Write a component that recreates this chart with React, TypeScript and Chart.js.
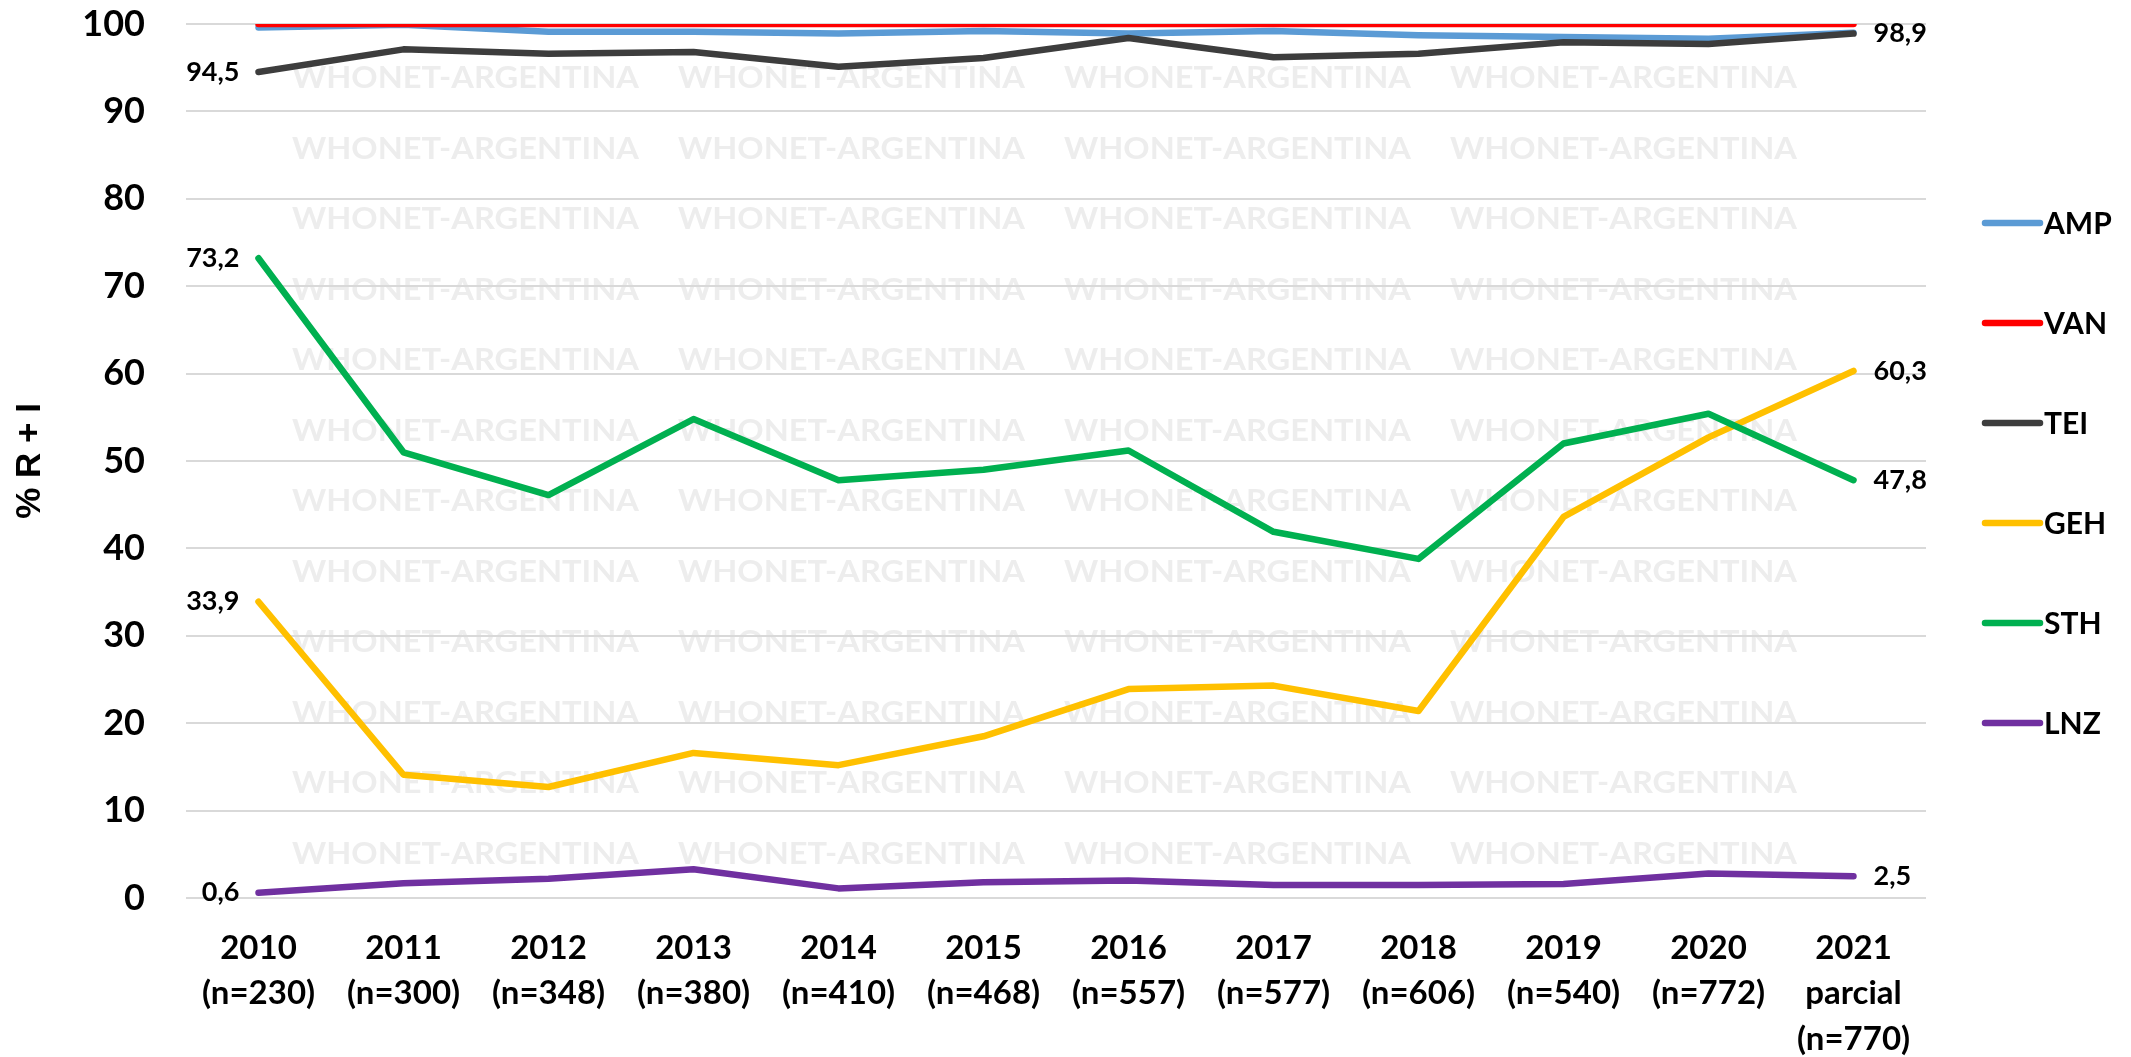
import React, { useEffect, useRef } from 'react';
import { Chart, registerables } from 'chart.js';

Chart.register(...registerables);

// ---------- data ----------
const years = ['2010', '2011', '2012', '2013', '2014', '2015', '2016', '2017', '2018', '2019', '2020', '2021'];
const yearNotes = ['', '', '', '', '', '', '', '', '', '', '', 'parcial'];
const sampleSizes = ['(n=230)', '(n=300)', '(n=348)', '(n=380)', '(n=410)', '(n=468)', '(n=557)', '(n=577)', '(n=606)', '(n=540)', '(n=772)', '(n=770)'];

const seriesNames = ['AMP', 'VAN', 'TEI', 'GEH', 'STH', 'LNZ'];
const AMP = [99.6, 99.9, 99.1, 99.1, 98.9, 99.2, 98.9, 99.2, 98.7, 98.5, 98.3, 99.0];
const VAN = [100, 100, 100, 100, 100, 100, 100, 100, 100, 100, 100, 100];
const TEI = [94.5, 97.1, 96.6, 96.8, 95.1, 96.1, 98.4, 96.2, 96.6, 97.9, 97.7, 98.9];
const GEH = [33.9, 14.1, 12.7, 16.6, 15.2, 18.5, 23.9, 24.3, 21.4, 43.6, 52.7, 60.3];
const STH = [73.2, 51.0, 46.1, 54.8, 47.8, 49.0, 51.2, 41.9, 38.8, 52.0, 55.4, 47.8];
const LNZ = [0.6, 1.7, 2.2, 3.3, 1.1, 1.8, 2.0, 1.5, 1.5, 1.6, 2.8, 2.5];
const seriesValues = [AMP, VAN, TEI, GEH, STH, LNZ];
const seriesColors = ['#5B9BD5', '#FF0000', '#3D3D3D', '#FFC000', '#00B050', '#7030A0'];
const endLabelledSeries = ['TEI', 'GEH', 'STH', 'LNZ'];

const yMin = 0;
const yMax = 100;
const yStep = 10;
const yTitle = '% R + I';
const watermarkText = 'WHONET-ARGENTINA';

// ---------- layout / style ----------
const W = 2131;
const H = 1057;
const FONT = 'Lato, "Open Sans", "DejaVu Sans", sans-serif';
const TITLE_FONT = '"Liberation Sans", Arial, sans-serif';
const LINE_W = 6.5;

const categoryLabels = years.map((y, i) => (yearNotes[i] ? [y, yearNotes[i], sampleSizes[i]] : [y, sampleSizes[i]]));

const fmt = (v: number) => v.toFixed(1).replace('.', ',');

const watermarkPlugin = {
  id: 'watermark',
  beforeDraw(chart: any) {
    const { ctx, chartArea } = chart;
    ctx.save();
    ctx.font = `bold 30px ${FONT}`;
    ctx.fillStyle = '#EDEDED';
    ctx.textBaseline = 'middle';
    ctx.textAlign = 'left';
    const natural = ctx.measureText(watermarkText).width;
    const target = 347;
    for (let r = 0; r < 12; r++) {
      const y = chartArea.top + 54.5 + r * 70.5;
      for (let c = 0; c < 4; c++) {
        const x = chartArea.left + 106 + c * 386;
        ctx.save();
        ctx.translate(x, y);
        ctx.scale(target / natural, 1);
        ctx.fillText(watermarkText, 0, 0);
        ctx.restore();
      }
    }
    ctx.restore();
  },
};

const endLabelPlugin = {
  id: 'endLabels',
  afterDatasetsDraw(chart: any) {
    const { ctx } = chart;
    ctx.save();
    ctx.font = `bold 27px ${FONT}`;
    ctx.fillStyle = '#000';
    ctx.textBaseline = 'middle';
    chart.data.datasets.forEach((ds: any, i: number) => {
      if (!endLabelledSeries.includes(ds.label)) return;
      const meta = chart.getDatasetMeta(i);
      const pts = meta.data;
      const first = pts[0];
      const last = pts[pts.length - 1];
      ctx.textAlign = 'right';
      ctx.fillText(fmt(ds.data[0]), first.x - 19, first.y);
      ctx.textAlign = 'left';
      ctx.fillText(fmt(ds.data[ds.data.length - 1]), last.x + 20, last.y);
    });
    ctx.restore();
  },
};

const legendPlugin = {
  id: 'sideLegend',
  afterDraw(chart: any) {
    const { ctx, chartArea } = chart;
    ctx.save();
    ctx.font = `bold 30px ${FONT}`;
    ctx.textBaseline = 'middle';
    ctx.textAlign = 'left';
    const x0 = chartArea.right + 59;
    const lineLen = 55;
    chart.data.datasets.forEach((ds: any, i: number) => {
      const y = chartArea.top + 199 + i * 100;
      ctx.strokeStyle = ds.borderColor;
      ctx.lineWidth = 6.5;
      ctx.lineCap = 'round';
      ctx.beginPath();
      ctx.moveTo(x0, y);
      ctx.lineTo(x0 + lineLen, y);
      ctx.stroke();
      ctx.fillStyle = '#000';
      ctx.fillText(ds.label, x0 + lineLen + 4, y + 1);
    });
    ctx.restore();
  },
};

export default function App() {
  const ref = useRef<HTMLCanvasElement>(null);

  useEffect(() => {
    document.body.style.margin = '0';
    const canvas = ref.current;
    if (!canvas) return;
    const chart = new Chart(canvas, {
      type: 'line',
      data: {
        labels: categoryLabels,
        datasets: seriesNames.map((name, i) => ({
          label: name,
          data: seriesValues[i],
          borderColor: seriesColors[i],
          backgroundColor: seriesColors[i],
          borderWidth: LINE_W,
          pointRadius: 0,
          pointHoverRadius: 0,
          tension: 0,
          fill: false,
          borderJoinStyle: 'round' as const,
          borderCapStyle: 'round' as const,
          clip: 0,
          order: seriesNames.length - i,
        })),
      },
      options: {
        animation: false,
        responsive: false,
        devicePixelRatio: 1,
        events: [],
        layout: { padding: { left: 0, top: 24, right: 205, bottom: 0 } },
        plugins: {
          legend: { display: false },
          tooltip: { enabled: false },
        },
        scales: {
          x: {
            type: 'category',
            offset: true,
            grid: { display: false, drawTicks: false },
            border: { display: false },
            ticks: {
              color: '#000',
              font: { family: FONT, size: 33, weight: 'bold', lineHeight: 1.39 },
              padding: 27,
              maxRotation: 0,
              minRotation: 0,
              autoSkip: false,
            },
            afterFit(scale: any) {
              scale.height = 159;
              scale.paddingLeft = 0;
              scale.paddingRight = 0;
            },
          },
          y: {
            min: yMin,
            max: yMax,
            grid: { color: '#D9D9D9', lineWidth: 2, drawTicks: false },
            border: { display: false },
            ticks: {
              stepSize: yStep,
              color: '#000',
              font: { family: FONT, size: 36, weight: 'bold' },
              padding: 41,
            },
            title: {
              display: true,
              text: yTitle,
              color: '#000',
              font: { family: TITLE_FONT, size: 35, weight: 'bold' },
              padding: { top: 9, bottom: 0 },
            },
            afterFit(scale: any) {
              scale.width = 186;
              scale.paddingTop = 0;
              scale.paddingBottom = 0;
            },
          },
        },
      },
      plugins: [watermarkPlugin, endLabelPlugin, legendPlugin],
    } as any);
    return () => chart.destroy();
  }, []);

  return (
    <div style={{ width: W, height: H, background: '#fff' }}>
      <canvas ref={ref} width={W} height={H} style={{ display: 'block', width: W, height: H }} />
    </div>
  );
}
